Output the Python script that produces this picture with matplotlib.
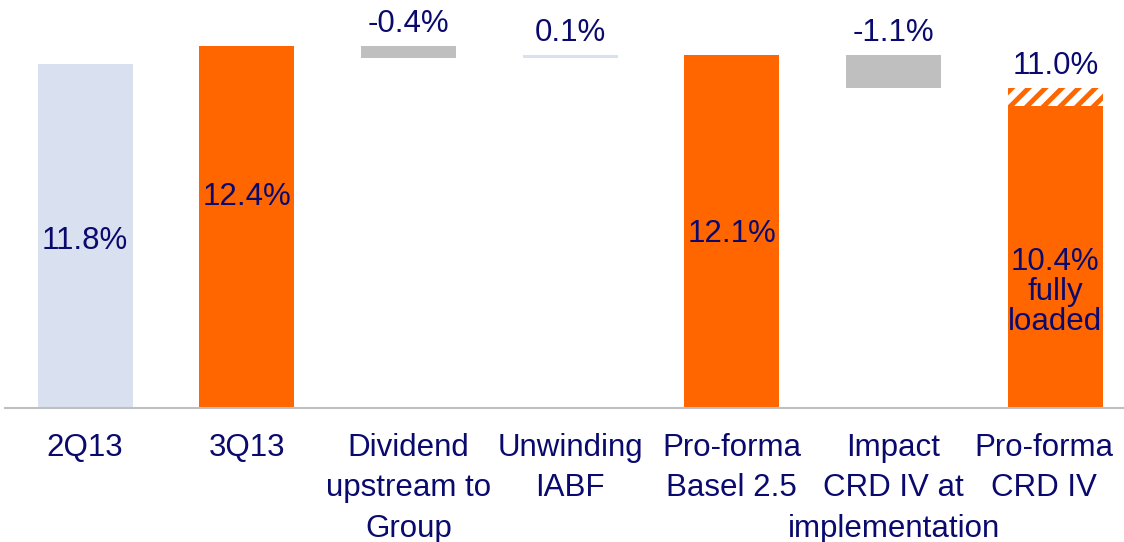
import matplotlib.pyplot as plt
import matplotlib.transforms as mtransforms
import numpy as np

plt.rcParams['font.family'] = ['Liberation Sans', 'DejaVu Sans']
plt.rcParams['hatch.linewidth'] = 3.5

# data (CET1 ratio bridge, %)
categories = ["2Q13", "3Q13", "Dividend\nupstream to\nGroup", "Unwinding\nIABF",
              "Pro-forma\nBasel 2.5", "Impact\nCRD IV at\nimplementation", "Pro-forma\nCRD IV"]
kinds = ["total", "total", "step", "step", "total", "step", "total"]
values = [11.8, 12.4, -0.4, 0.1, 12.1, -1.1, 11.0]
fully_loaded = 10.4
bar_colors = ["#D9E1F0", "#FF6600", "#BFBFBF", "#D9E1F0", "#FF6600", "#BFBFBF", "#FF6600"]

TXT = "#0A0A6E"
ORANGE = "#FF6600"
FS = 22.5

fig = plt.figure(figsize=(11.24, 5.42), dpi=100)
ax = fig.add_axes([5 / 1124, 134 / 542, 1119 / 1124, 408 / 542])

x = np.arange(len(categories))
w = 0.587

# work out bottoms/heights of the waterfall
bottoms = []
heights = []
level = 0
for k, v in zip(kinds, values):
    if k == "total":
        bottoms.append(0)
        heights.append(v)
        level = v
    else:
        bottoms.append(level + min(0, v))
        heights.append(abs(v))
        level += v

for i in range(len(x)):
    if i == len(x) - 1:
        # solid fully-loaded part + hatched transitional part
        ax.bar(x[i], fully_loaded, width=w, color=ORANGE, linewidth=0)
        ax.bar(x[i], values[i] - fully_loaded, bottom=fully_loaded, width=w,
               color="white", edgecolor=ORANGE, hatch="//", linewidth=0)
    else:
        ax.bar(x[i], heights[i], bottom=bottoms[i], width=w, color=bar_colors[i], linewidth=0)

# labels inside the total bars
inner_y = {0: 5.9, 1: 7.36, 4: 6.13, 6: 4.2}
inner_txt = {0: "11.8%", 1: "12.4%", 4: "12.1%", 6: "10.4%\nfully\nloaded"}
for i, yy in inner_y.items():
    ax.text(x[i], yy, inner_txt[i], ha="center", va="center", fontsize=FS,
            color=TXT, linespacing=1.0)

# labels above the step bars and the last one
for i in range(len(x)):
    if kinds[i] == "step" or i == len(x) - 1:
        top = bottoms[i] + heights[i] if kinds[i] == "step" else values[i]
        lab = f"{values[i]:.1f}%"
        ax.annotate(lab, xy=(x[i], top), xytext=(0, 16), textcoords="offset points",
                    ha="center", va="center", fontsize=FS, color=TXT)

ax.set_xlim(-0.495, 6.425)
ax.set_ylim(0.33, 13.93)
ax.set_xticks(x)
ax.set_xticklabels(categories, fontsize=FS, color=TXT, linespacing=1.45)
ax.tick_params(axis="x", length=0, pad=18)
ax.set_yticks([])
for s in ["top", "left", "right"]:
    ax.spines[s].set_visible(False)
ax.spines["bottom"].set_color("#BFBFBF")
ax.spines["bottom"].set_linewidth(1.5)

# last label sits a bit to the left so it stays inside the picture
last = ax.get_xticklabels()[-1]
last.set_transform(last.get_transform() + mtransforms.ScaledTranslation(-11 / 100, 0, fig.dpi_scale_trans))

fig.savefig("out.png", dpi=100)
